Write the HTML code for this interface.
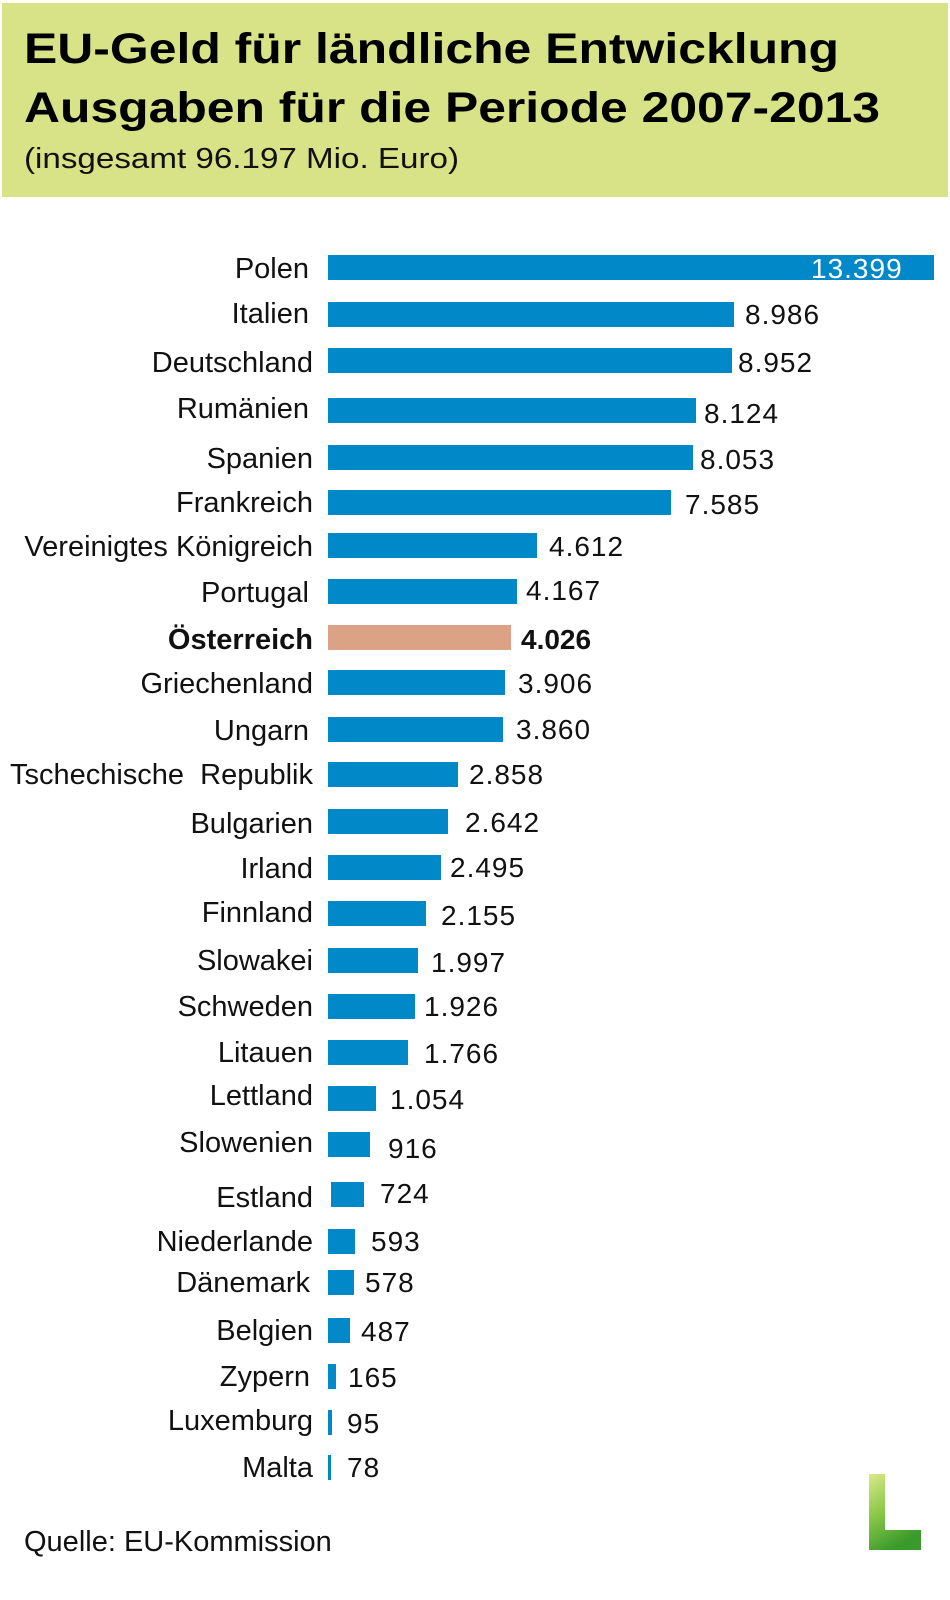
<!DOCTYPE html>
<html><head><meta charset="utf-8"><style>
html,body{margin:0;padding:0;background:#fff;}
svg{display:block;font-family:"Liberation Sans",Arial,sans-serif;}
.l{font-size:29px;text-anchor:end;fill:#111;}
.v{font-size:28px;fill:#111;letter-spacing:1px;}
</style></head><body>
<svg width="950" height="1600" viewBox="0 0 950 1600" xmlns="http://www.w3.org/2000/svg">
<defs><linearGradient id="g" x1="0" y1="0" x2="0.4" y2="1"><stop offset="0" stop-color="#d9e98a"/><stop offset="0.5" stop-color="#8cc84a"/><stop offset="1" stop-color="#3a9a2c"/></linearGradient></defs>
<rect x="2" y="3" width="946" height="194" fill="#d8e387"/>
<text x="24" y="63" font-size="43" font-weight="bold" textLength="815" lengthAdjust="spacingAndGlyphs" fill="#000">EU-Geld für ländliche Entwicklung</text>
<text x="24" y="122" font-size="43" font-weight="bold" textLength="856" lengthAdjust="spacingAndGlyphs" fill="#000">Ausgaben für die Periode 2007-2013</text>
<text x="24" y="168" font-size="29" textLength="435" lengthAdjust="spacingAndGlyphs" fill="#111">(insgesamt 96.197 Mio. Euro)</text>

<g fill="#0088c8">
<rect x="328" y="255" width="606" height="25"/>
<rect x="328" y="302" width="406" height="25"/>
<rect x="328" y="348" width="404" height="25"/>
<rect x="328" y="398" width="368" height="25"/>
<rect x="328" y="445" width="365" height="25"/>
<rect x="328" y="490" width="343" height="25"/>
<rect x="328" y="533" width="209" height="25"/>
<rect x="328" y="579" width="189" height="25"/>
<rect x="328" y="670" width="177" height="25"/>
<rect x="328" y="717" width="175" height="25"/>
<rect x="328" y="762" width="130" height="25"/>
<rect x="328" y="809" width="120" height="25"/>
<rect x="328" y="855" width="113" height="25"/>
<rect x="328" y="901" width="98" height="25"/>
<rect x="328" y="948" width="90" height="25"/>
<rect x="328" y="994" width="87" height="25"/>
<rect x="328" y="1040" width="80" height="25"/>
<rect x="328" y="1086" width="48" height="25"/>
<rect x="328" y="1132" width="42" height="25"/>
<rect x="331" y="1182" width="33" height="25"/>
<rect x="328" y="1229" width="27" height="25"/>
<rect x="328" y="1270" width="26" height="25"/>
<rect x="328" y="1318" width="22" height="25"/>
<rect x="328" y="1364" width="8" height="25"/>
<rect x="328" y="1410" width="4" height="25"/>
<rect x="328" y="1455" width="3" height="25"/>
</g>
<rect x="328" y="625" width="183" height="25" fill="#dca286"/>

<g class="l">
<text x="309" y="278">Polen</text>
<text x="309" y="323">Italien</text>
<text x="313" y="372">Deutschland</text>
<text x="309" y="418">Rumänien</text>
<text x="313" y="468">Spanien</text>
<text x="313" y="512">Frankreich</text>
<text x="313" y="556">Vereinigtes Königreich</text>
<text x="309" y="602">Portugal</text>
<text x="313" y="649" font-weight="bold">Österreich</text>
<text x="313" y="693">Griechenland</text>
<text x="309" y="740">Ungarn</text>
<text x="313" y="784">Tschechische&#160; Republik</text>
<text x="313" y="833">Bulgarien</text>
<text x="313" y="878">Irland</text>
<text x="313" y="922">Finnland</text>
<text x="313" y="970">Slowakei</text>
<text x="313" y="1016">Schweden</text>
<text x="313" y="1062">Litauen</text>
<text x="313" y="1105">Lettland</text>
<text x="313" y="1152">Slowenien</text>
<text x="313" y="1207">Estland</text>
<text x="313" y="1251">Niederlande</text>
<text x="310" y="1292">Dänemark</text>
<text x="313" y="1340">Belgien</text>
<text x="310" y="1386">Zypern</text>
<text x="313" y="1430">Luxemburg</text>
<text x="313" y="1477">Malta</text>
</g>
<g class="v">
<text x="811" y="278" fill="#fff">13.399</text>
<text x="745" y="324">8.986</text>
<text x="738" y="372">8.952</text>
<text x="704" y="423">8.124</text>
<text x="700" y="469">8.053</text>
<text x="685" y="514">7.585</text>
<text x="549" y="556">4.612</text>
<text x="526" y="600">4.167</text>
<text x="521" y="649" font-weight="bold" letter-spacing="0">4.026</text>
<text x="518" y="693">3.906</text>
<text x="516" y="739">3.860</text>
<text x="469" y="784">2.858</text>
<text x="465" y="832">2.642</text>
<text x="450" y="877">2.495</text>
<text x="441" y="925">2.155</text>
<text x="431" y="972">1.997</text>
<text x="424" y="1016">1.926</text>
<text x="424" y="1063">1.766</text>
<text x="390" y="1109">1.054</text>
<text x="388" y="1158">916</text>
<text x="380" y="1203">724</text>
<text x="371" y="1251">593</text>
<text x="365" y="1292">578</text>
<text x="361" y="1341">487</text>
<text x="348" y="1387">165</text>
<text x="347" y="1433">95</text>
<text x="347" y="1477">78</text>
</g>
<text x="24" y="1551" font-size="29" fill="#111">Quelle: EU-Kommission</text>
<path d="M869 1474 H885 V1530 H921 V1550 H869 Z" fill="url(#g)"/>
</svg>
</body></html>
